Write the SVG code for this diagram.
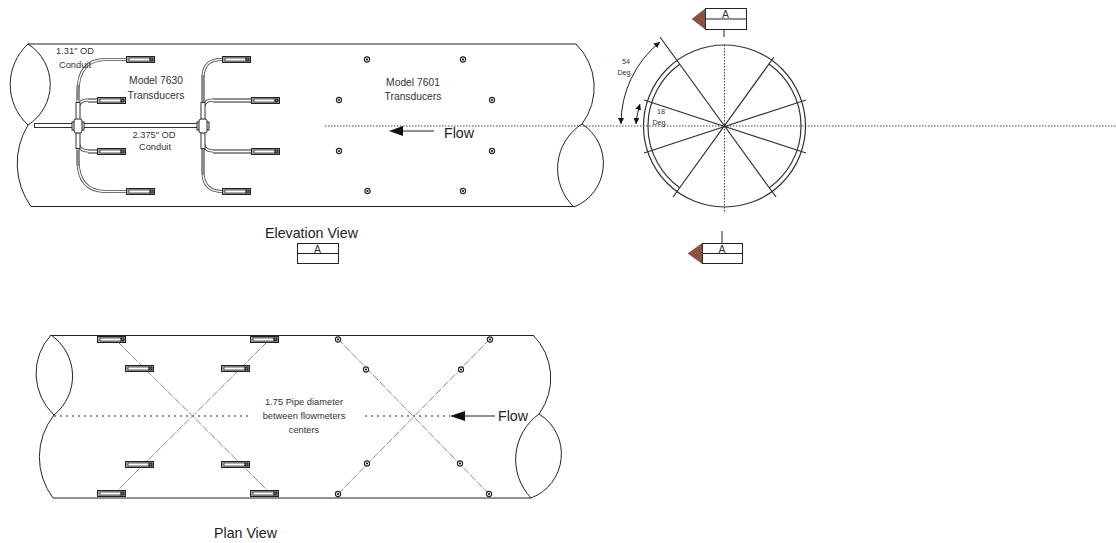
<svg xmlns="http://www.w3.org/2000/svg" width="1116" height="543" viewBox="0 0 1116 543">
<style>
text{font-family:"Liberation Sans",Arial,sans-serif;fill:#333;text-anchor:middle}
.f93{font-size:9.3px}.f103{font-size:10.3px}.f7{font-size:7.2px}.f14{font-size:14.2px;fill:#222}.f10{font-size:10.5px}
.l{fill:none;stroke:#222;stroke-width:1}
.l2{fill:none;stroke:#333;stroke-width:1.2}
.dot{fill:none;stroke:#444;stroke-width:1;stroke-dasharray:1.5 1.5}
.dot2{fill:none;stroke:#222;stroke-width:1;stroke-dasharray:2 4}
.diag{fill:none;stroke:#888;stroke-width:1;stroke-dasharray:7 1 1 1}
.co{fill:none;stroke:#333;stroke-width:5}.ci{fill:none;stroke:#fff;stroke-width:3}
.so{fill:none;stroke:#444;stroke-width:3}.si{fill:none;stroke:#fff;stroke-width:1.4}
.g{fill:none;stroke:#888;stroke-width:3}
.box{fill:#fff;stroke:#222;stroke-width:1}
.tri{fill:#8f5040;stroke:#555;stroke-width:.5}
</style>
<defs>
<g id="tr"><rect x=".5" y=".5" width="28" height="6" fill="#aaa" stroke="#222"/><rect x="3" y="2" width="21" height="3" fill="#fff" stroke="#333" stroke-width=".8"/><rect x="24" y="2" width="3" height="3" fill="#666" stroke="#111" stroke-width=".8"/></g>
<g id="sn"><circle r="2.6" fill="#fff" stroke="#222" stroke-width="1.1"/><circle r="1.1" fill="#111"/></g>
<marker id="ah" markerWidth="7" markerHeight="6" refX="6" refY="3" orient="auto-start-reverse" markerUnits="userSpaceOnUse"><path d="M0 0L6 3L0 6Z" fill="#111"/></marker>
</defs>
<g id="connectors">
<path class="so" d="M78 121V92Q78 60 105 59.500H126M78 129V160Q78 191 105 191.500H126M203 121V78Q203 59 222 59.500M203 129V172Q203 191 222 191.500"/>
<path class="si" d="M78 121V92Q78 60 105 59.500H126M78 129V160Q78 191 105 191.500H126M203 121V78Q203 59 222 59.500M203 129V172Q203 191 222 191.500"/>
<path class="g" d="M203 75V175M78 85V100M78 150V166"/>
<path class="so" d="M78 110Q78 100 88 100M78 140Q78 151 88 151M203 110Q203 100 213 100M203 140Q203 151 213 151"/>
<path class="si" d="M78 110Q78 100 88 100M78 140Q78 151 88 151M203 110Q203 100 213 100M203 140Q203 151 213 151"/>
<path class="l" d="M88 99H97M88 102H97M88 150H97M88 153H97M213 99H251M213 102H251M213 150H251M213 153H251"/>
<path class="co" d="M34 125.500H208M78 102V149M203 102V149"/>
<path class="ci" d="M35 125.500H207M78 103V148M203 103V148"/>
<g fill="#fff" stroke="#222"><rect x="72" y="122" width="12" height="8"/><rect x="74" y="119" width="8" height="14" rx="2"/><rect x="197" y="122" width="12" height="8"/><rect x="199" y="119" width="8" height="14" rx="2"/></g>
<path class="dot" d="M325 126H1116"/>
<path class="dot" d="M724.500 45V212"/>
<path class="dot2" d="M54 416H250M365 416H450"/>
<path class="diag" d="M118 342L267 490M267 342L118 490M338 339L489 494M490 339L338 494"/>
<path class="l" d="M403 131H434M465 416H495"/>
<path d="M389 131L403 126V136ZM450 416L465 411V421Z" fill="#111"/>
<path class="l" d="M621 124A105 105 0 0 1 660 42" marker-start="url(#ah)" marker-end="url(#ah)"/>
<path class="l" d="M636 124A88 88 0 0 1 640 104" marker-start="url(#ah)" marker-end="url(#ah)"/>
</g>
<g id="elevation-pipe">
<path class="l" d="M28 44H576M31 206.500H574"/>
<path class="l" d="M28 44A55 55 0 0 0 28 125A48 48 0 0 0 28 44M28 125A74 74 0 0 0 31 206.500M576 44A61 61 0 0 1 582 124M582 124A47 47 0 0 1 574 207A53 53 0 0 1 582 124"/>
</g>
<g id="plan-pipe">
<path class="l" d="M51 335.500H533M53 498H531"/>
<path class="l" d="M51 335A57 57 0 0 0 54 415A50 50 0 0 0 51 335M54 415A68 68 0 0 0 53 498M533 335A61 61 0 0 1 539 414M539 414A47 47 0 0 1 531 498A56 56 0 0 1 539 414"/>
</g>
<g id="section-circle">
<circle class="l2" cx="724.500" cy="126" r="81"/>
<path class="l2" d="M680 64A76 76 0 0 0 680 188M769 64A76 76 0 0 1 769 188"/>
<path class="l2" d="M660 37L776 197M774 57L673 197M644 100L806 153M806 100L644 153"/>
</g>
<g id="t1"><use href="#tr" x="126" y="56"/></g>
<g id="t2"><use href="#tr" x="97" y="97"/></g>
<g id="t3"><use href="#tr" x="97" y="148"/></g>
<g id="t4"><use href="#tr" x="126" y="188"/></g>
<g id="t5"><use href="#tr" x="222" y="56"/></g>
<g id="t6"><use href="#tr" x="251" y="97"/></g>
<g id="t7"><use href="#tr" x="251" y="148"/></g>
<g id="t8"><use href="#tr" x="222" y="188"/></g>
<g id="p1"><use href="#tr" x="97" y="336"/></g>
<g id="p2"><use href="#tr" x="125" y="365"/></g>
<g id="p3"><use href="#tr" x="250" y="336"/></g>
<g id="p4"><use href="#tr" x="221" y="365"/></g>
<g id="p5"><use href="#tr" x="125" y="461"/></g>
<g id="p6"><use href="#tr" x="221" y="461"/></g>
<g id="p7"><use href="#tr" x="97" y="490"/></g>
<g id="p8"><use href="#tr" x="250" y="490"/></g>
<g id="sensors-elevation">
<use href="#sn" x="367" y="59.500"/><use href="#sn" x="463" y="59.500"/><use href="#sn" x="339" y="100"/><use href="#sn" x="492" y="100"/><use href="#sn" x="339" y="151"/><use href="#sn" x="492" y="151"/><use href="#sn" x="367.500" y="191"/><use href="#sn" x="463" y="191"/>
</g>
<g id="sensors-plan">
<use href="#sn" x="338" y="339.500"/><use href="#sn" x="490" y="339.500"/><use href="#sn" x="366" y="369.500"/><use href="#sn" x="461" y="369.500"/><use href="#sn" x="367" y="463.500"/><use href="#sn" x="460" y="463.500"/><use href="#sn" x="338" y="494"/><use href="#sn" x="489" y="494"/>
</g>
<g id="section-top"><path class="l" d="M724 30V37"/><rect class="box" x="705.500" y="8.500" width="41" height="21"/><path class="l" d="M705.500 19H746.500"/><path class="tri" d="M692 19L705 9V29Z"/><text class="f10" x="725.500" y="18">A</text></g>
<g id="section-bottom"><path class="l" d="M722 231V243"/><rect class="box" x="702.500" y="243.500" width="40" height="20"/><path class="l" d="M702.500 253.500H742.500"/><path class="tri" d="M688 253.500L702 243.500V263.500Z"/><text class="f10" x="722" y="253">A</text></g>
<g id="section-elevation"><rect class="box" x="297.500" y="243.500" width="41" height="20"/><path class="l" d="M297.500 253.500H338.500"/><text class="f10" x="317.500" y="253">A</text></g>
<g id="labels">
<text class="f93" x="75" y="54">1.31" OD</text><text class="f93" x="75" y="68">Conduit</text>
<text class="f103" x="156" y="84">Model 7630</text><text class="f103" x="156" y="99">Transducers</text>
<text class="f93" x="154" y="138">2.375" OD</text><text class="f93" x="155" y="150">Conduit</text>
<text class="f103" x="413" y="86">Model 7601</text><text class="f103" x="413" y="100">Transducers</text>
<text class="f14" x="459" y="138">Flow</text>
<text class="f7" x="626" y="64">54</text><text class="f7" x="625" y="75">Deg.</text>
<text class="f7" x="661" y="114">18</text><text class="f7" x="660" y="125">Deg.</text>
<text class="f14" x="311.500" y="238">Elevation View</text>
<text class="f93" x="304" y="405">1.75 Pipe diameter</text><text class="f93" x="304" y="419">between flowmeters</text><text class="f93" x="304" y="433">centers</text>
<text class="f14" x="513" y="421">Flow</text>
<text class="f14" x="245.500" y="538">Plan View</text>
</g>
</svg>
